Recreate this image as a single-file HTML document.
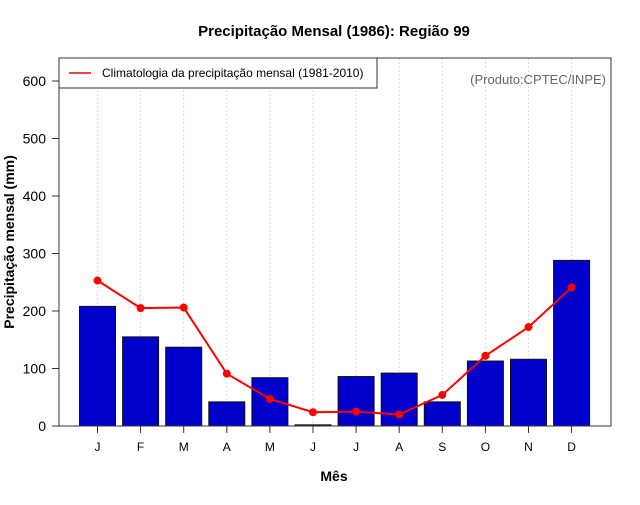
<!DOCTYPE html>
<html><head><meta charset="utf-8"><style>
body{margin:0;background:#fff}
svg text{font-family:"Liberation Sans",Arial,sans-serif}
</style></head><body>
<svg id="chart" width="640" height="500" xmlns="http://www.w3.org/2000/svg">
<text x="334" y="36" text-anchor="middle" font-size="15" font-weight="bold">Precipitação Mensal (1986): Região 99</text>
<text x="334" y="481" text-anchor="middle" font-size="14" font-weight="bold">Mês</text>
<text transform="translate(14,242) rotate(-90)" text-anchor="middle" font-size="14" font-weight="bold">Precipitação mensal (mm)</text>
<g id="grid"></g><g id="bars"></g><g id="line"></g><g id="axes"></g>
<rect x="59" y="58" width="552" height="368" fill="none" stroke="#333" stroke-width="1"/>
<g>
<rect x="59" y="58" width="318" height="30" fill="#fff" stroke="#333"/>
<line x1="69" y1="73" x2="91" y2="73" stroke="red" stroke-width="1.5"/>
<text x="102" y="77" font-size="12">Climatologia da precipitação mensal (1981-2010)</text>
</g>
<text x="606" y="84" text-anchor="end" font-size="13" fill="#666">(Produto:CPTEC/INPE)</text>
</svg>
<script>
const months=["J","F","M","A","M","J","J","A","S","O","N","D"];
const observed=[208,155,137,42,84,2,86,92,42,113,116,288];
const climatology=[253,205,206,91,47,24,25,20,54,122,172,241];
const yTicks=[0,100,200,300,400,500,600];
const NS="http://www.w3.org/2000/svg";
const x=i=>97.5+i*43.1;
const y=v=>426-v*0.575;
function mk(tag,attrs,parent){const e=document.createElementNS(NS,tag);for(const k in attrs)e.setAttribute(k,attrs[k]);document.getElementById(parent).appendChild(e);return e;}
months.forEach((m,i)=>{
 const g=mk("line",{x1:x(i),x2:x(i),y1:58,y2:426,stroke:"#ddd","stroke-dasharray":"2,2"},"grid");
 
 
 const b=mk("rect",{x:x(i)-18,y:y(observed[i]),width:36,height:426-y(observed[i]),fill:"#0000cc",stroke:"#111","stroke-width":1},"bars");
 
 
 const t=mk("line",{x1:x(i),x2:x(i),y1:426,y2:433,stroke:"#333"},"axes");
 
 
 const l=mk("text",{x:x(i),y:451,"text-anchor":"middle","font-size":"12"},"axes");l.textContent=m;
 
 
});
const pl=mk("polyline",{points:climatology.map((v,i)=>x(i)+","+y(v)).join(" "),fill:"none",stroke:"red","stroke-width":2},"line");


climatology.forEach((v,i)=>{
 const c=mk("circle",{cx:x(i),cy:y(v),r:4,fill:"red"},"line");
 
 
});
yTicks.forEach(v=>{
 const t=mk("line",{x1:52,x2:59,y1:y(v),y2:y(v),stroke:"#333"},"axes");
 
 
 const l=mk("text",{x:46,y:y(v)+5,"text-anchor":"end","font-size":"14"},"axes");l.textContent=v;
 
 
});
</script>
</body></html>
